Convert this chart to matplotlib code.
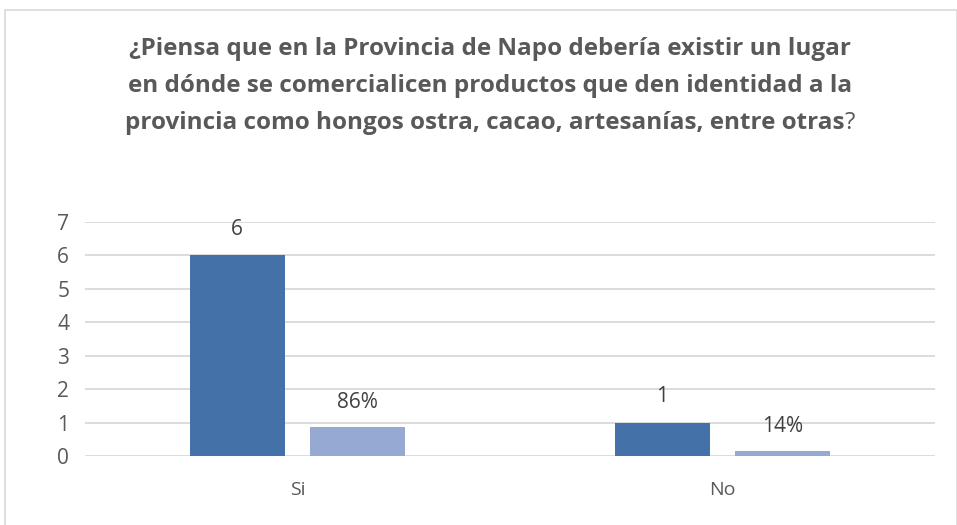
import matplotlib.pyplot as plt
import numpy as np
from matplotlib.patches import Rectangle

categories = ["Si", "No"]
counts = [6, 1]
shares = [0.86, 0.14]
count_labels = ["6", "1"]
share_labels = ["86%", "14%"]
title_lines = [
    "¿Piensa que en la Provincia de Napo debería existir un lugar",
    "en dónde se comercialicen productos que den identidad a la",
    "provincia como hongos ostra, cacao, artesanías, entre otras",
]

dark = "#4472a8"
light = "#95a9d2"
text_color = "#595959"
grid_color = "#d9d9d9"
font = ["Open Sans", "DejaVu Sans"]

plt.rcParams["font.family"] = font

fig = plt.figure(figsize=(9.57, 5.25), dpi=100)
fig.patches.append(Rectangle((5 / 957, -0.01), 952 / 957, 1 - 10 / 525 + 0.01,
                             transform=fig.transFigure, fill=False,
                             edgecolor="#d9d9d9", linewidth=1.2))

ax = fig.add_axes([85 / 957, (525 - 456) / 525, 850 / 957, (456 - 222) / 525])
x = np.arange(len(categories))
width = 0.224
offset = 0.142
ax.bar(x - offset, counts, width, color=dark, zorder=3)
ax.bar(x + offset, shares, width, color=light, zorder=3)

for xi, v, lab in zip(x, counts, count_labels):
    ax.text(xi - offset, v + 0.77, lab, ha="center", va="center",
            fontsize=15, color="#404040")
for xi, v, lab in zip(x, shares, share_labels):
    ax.text(xi + offset, v + 0.75, lab, ha="center", va="center",
            fontsize=15, color="#404040")

ax.set_xlim(-0.5, 1.5)
ax.set_ylim(0, 7)
ax.set_yticks(range(0, 8))
ax.set_xticks(x)
ax.set_xticklabels(categories)
ax.yaxis.grid(True, color=grid_color, linewidth=1.3, zorder=0)
ax.tick_params(axis="y", length=0, pad=20, labelsize=15, labelcolor=text_color)
ax.tick_params(axis="x", length=0, pad=18, labelsize=14, labelcolor=text_color)
for lbl in ax.get_yticklabels():
    lbl.set_horizontalalignment("left")
for s in ax.spines.values():
    s.set_visible(False)

# Title: three bold lines, the closing question mark in regular weight
ys = [49, 86, 123]
fig.canvas.draw()
renderer = fig.canvas.get_renderer()
for i, (line, yp) in enumerate(zip(title_lines, ys)):
    y = 1 - yp / 525
    if i < 2:
        fig.text(490 / 957, y, line, ha="center", va="center", fontsize=17.5,
                 fontweight="bold", color=text_color)
    else:
        q = fig.text(0, y, "?", ha="left", va="center", fontsize=17.5, color=text_color)
        t = fig.text(0, y, line, ha="left", va="center", fontsize=17.5,
                     fontweight="bold", color=text_color)
        wt = t.get_window_extent(renderer).width
        wq = q.get_window_extent(renderer).width
        left = 490 - (wt + wq) / 2
        t.set_x(left / 957)
        q.set_x((left + wt) / 957)

fig.savefig("out.png", dpi=100)
